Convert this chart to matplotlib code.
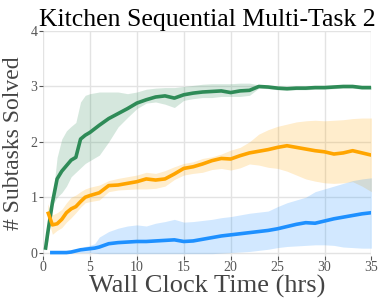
import matplotlib
matplotlib.use("Agg")
import matplotlib.pyplot as plt
import numpy as np

# ---- data ----
t_green = [0.25, 0.5, 1, 1.5, 2, 2.5, 3, 3.5, 4, 4.5, 5, 6, 7, 8, 9, 10, 11, 12, 13, 14, 15,
           16, 17, 18, 19, 20, 21, 22, 23, 24, 25, 26, 27, 28, 29, 30, 31, 32, 33, 34, 35]
green_mean = [0.05, 0.35, 0.9, 1.33, 1.47, 1.57, 1.67, 1.72, 2.05, 2.12, 2.17, 2.3, 2.42, 2.51, 2.6,
              2.7, 2.76, 2.81, 2.83, 2.79, 2.85, 2.88, 2.9, 2.91, 2.92, 2.89, 2.92, 2.93, 3.0, 2.99,
              2.97, 2.96, 2.97, 2.97, 2.98, 2.98, 2.99, 3.0, 3.0, 2.98, 2.98]
green_lo = [0.03, 0.2, 0.85, 1.0, 1.08, 1.2, 1.37, 1.45, 1.53, 1.61, 1.66, 1.76, 2.0, 2.27, 2.44,
            2.6, 2.7, 2.72, 2.68, 2.62, 2.75, 2.78, 2.8, 2.8, 2.82, 2.82, 2.82, 2.84, 2.97, 2.96,
            2.94, 2.93, 2.94, 2.94, 2.95, 2.95, 2.96, 2.97, 2.97, 2.95, 2.95]
green_hi = [0.07, 0.5, 0.95, 1.72, 2.05, 2.2, 2.28, 2.35, 2.72, 2.84, 2.87, 2.9, 2.9, 2.9, 2.87,
            2.9, 2.95, 2.97, 2.98, 2.98, 3.0, 3.02, 3.04, 3.05, 3.05, 3.05, 3.06, 3.06, 3.03, 3.02,
            3.0, 2.99, 3.0, 3.0, 3.01, 3.01, 3.02, 3.03, 3.03, 3.01, 3.01]

t_orange = [0.5, 1, 1.5, 2, 2.5, 3, 3.5, 4, 4.5, 5, 6, 7, 8, 9, 10, 11, 12, 13, 14, 15,
            16, 17, 18, 19, 20, 21, 22, 23, 24, 25, 26, 27, 28, 29, 30, 31, 32, 33, 34, 35]
orange_mean = [0.74, 0.5, 0.52, 0.6, 0.72, 0.79, 0.83, 0.92, 1.0, 1.03, 1.08, 1.21, 1.22, 1.25,
               1.28, 1.33, 1.31, 1.33, 1.42, 1.52, 1.55, 1.6, 1.66, 1.7, 1.69, 1.75, 1.8, 1.83,
               1.86, 1.9, 1.93, 1.9, 1.87, 1.84, 1.82, 1.78, 1.8, 1.84, 1.8, 1.76]
orange_lo = [0.62, 0.33, 0.4, 0.45, 0.55, 0.63, 0.72, 0.82, 0.9, 0.92, 0.95, 1.1, 1.13, 1.14,
             1.15, 1.15, 1.16, 1.2, 1.32, 1.4, 1.43, 1.45, 1.5, 1.52, 1.49, 1.53, 1.6, 1.58,
             1.54, 1.52, 1.47, 1.4, 1.33, 1.29, 1.26, 1.25, 1.26, 1.28, 1.2, 1.1]
orange_hi = [0.88, 0.68, 0.72, 0.78, 0.9, 1.0, 1.04, 1.1, 1.15, 1.18, 1.22, 1.3, 1.34, 1.37,
             1.4, 1.45, 1.43, 1.48, 1.55, 1.61, 1.64, 1.7, 1.73, 1.78, 1.85, 1.9, 2.0, 2.14,
             2.22, 2.28, 2.32, 2.36, 2.38, 2.39, 2.38, 2.39, 2.4, 2.42, 2.43, 2.43]

t_blue = [0.75, 1, 1.5, 2, 2.5, 3, 3.5, 4, 4.5, 5, 5.5, 6, 7, 8, 9, 10, 11, 12, 13, 14, 15,
          16, 17, 18, 19, 20, 21, 22, 23, 24, 25, 26, 27, 28, 29, 30, 31, 32, 33, 34, 35]
blue_mean = [0.0, 0.0, 0.0, 0.0, 0.0, 0.01, 0.03, 0.05, 0.06, 0.07, 0.08, 0.1, 0.16, 0.18, 0.19,
             0.2, 0.2, 0.21, 0.22, 0.23, 0.2, 0.21, 0.24, 0.27, 0.3, 0.32, 0.34, 0.36, 0.38,
             0.4, 0.43, 0.47, 0.51, 0.54, 0.53, 0.57, 0.61, 0.64, 0.67, 0.7, 0.72]
blue_lo = [0.0, 0.0, 0.0, 0.0, 0.0, 0.0, 0.0, 0.0, 0.0, 0.0, -0.01, -0.02, -0.02, -0.02, -0.02,
           -0.02, -0.02, -0.02, -0.02, -0.02, -0.02, -0.02, -0.02, -0.02, -0.01, 0.0, 0.01, 0.02,
           0.04, 0.06, 0.09, 0.11, 0.12, 0.13, 0.14, 0.14, 0.13, 0.1, 0.09, 0.08, 0.08]
blue_hi = [0.0, 0.0, 0.0, 0.0, 0.01, 0.03, 0.06, 0.08, 0.11, 0.13, 0.16, 0.28, 0.38, 0.44, 0.48,
           0.5, 0.48, 0.53, 0.56, 0.6, 0.55, 0.56, 0.58, 0.6, 0.63, 0.65, 0.68, 0.71, 0.73,
           0.75, 0.83, 0.9, 0.95, 1.0, 1.1, 1.15, 1.2, 1.25, 1.3, 1.33, 1.35]

xticks = [0, 5, 10, 15, 20, 25, 30, 35]
yticks = [0, 1, 2, 3, 4]

# ---- style ----
plt.rcParams["font.family"] = ["Liberation Serif", "DejaVu Serif"]

fig = plt.figure(figsize=(3.79, 3.05), dpi=100)
ax = fig.add_axes([0.1135, 0.161, 0.8665, 0.737])

series = [
    (t_green, green_mean, green_lo, green_hi, "#2e8b57"),
    (t_orange, orange_mean, orange_lo, orange_hi, "#ffa500"),
    (t_blue, blue_mean, blue_lo, blue_hi, "#1e90ff"),
]
for t, m, lo, hi, c in series:
    ax.fill_between(t, lo, hi, color=c, alpha=0.2, linewidth=0)
    ax.plot(t, m, color=c, linewidth=2.6, solid_capstyle="butt")

ax.set_xlim(0, 35)
ax.set_ylim(-0.06, 4.0)
ax.set_xticks(xticks)
ax.set_yticks(yticks)
ax.grid(True, color="#e3e3e3", linewidth=1.0)
ax.set_axisbelow(True)
for s in ax.spines.values():
    s.set_visible(False)
ax.tick_params(colors="#555555", labelsize=10, length=3, width=0.8, pad=1)

ax.set_title("Kitchen Sequential Multi-Task 2", fontsize=18.5, color="black", pad=3)
ax.set_xlabel("Wall Clock Time (hrs)", fontsize=19, color="#444444", labelpad=0)
ax.set_ylabel("# Subtasks Solved", fontsize=17, color="#444444", labelpad=4.5)

fig.savefig("out.png", dpi=100)
